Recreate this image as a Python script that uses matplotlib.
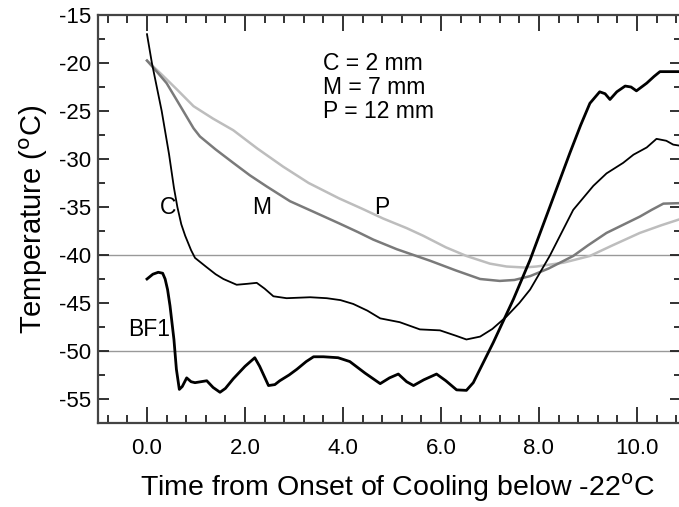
import matplotlib
matplotlib.use("Agg")
from matplotlib import pyplot as plt
from matplotlib.ticker import MultipleLocator, FormatStrFormatter

plt.rcParams['font.family'] = ['Liberation Sans', 'DejaVu Sans']
plt.rcParams['axes.unicode_minus'] = False

# Curve C (2 mm)
c_x = [0.0, 0.1, 0.3, 0.45, 0.55, 0.62, 0.7, 0.78, 0.9, 0.98, 1.2, 1.4, 1.56, 1.83, 2.05, 2.24,
       2.4, 2.58, 2.85, 3.33, 3.67, 3.95, 4.21, 4.5, 4.76, 5.16, 5.57, 5.98, 6.3, 6.52, 6.8,
       7.05, 7.34, 7.6, 7.82, 8.22, 8.7, 9.11, 9.38, 9.72, 9.93, 10.2, 10.4, 10.6, 10.74, 10.86]
c_y = [-17.0, -20.0, -25.0, -29.5, -33.0, -35.0, -36.8, -38.0, -39.5, -40.3, -41.2, -42.0,
       -42.5, -43.1, -43.0, -42.9, -43.5, -44.3, -44.5, -44.4, -44.5, -44.7, -45.1, -45.8,
       -46.6, -47.0, -47.75, -47.85, -48.4, -48.8, -48.5, -47.7, -46.4, -45.0, -43.6, -40.1,
       -35.3, -32.8, -31.5, -30.4, -29.55, -28.8, -27.9, -28.1, -28.5, -28.6]

# Curve M (7 mm)
m_x = [0.0, 0.2, 0.4, 0.6, 0.81, 0.95, 1.08, 1.4, 1.76, 2.1, 2.44, 2.92, 3.4, 3.92, 4.3, 4.62,
       5.1, 5.78, 6.3, 6.8, 7.2, 7.5, 7.82, 8.2, 8.7, 9.0, 9.38, 9.7, 10.06, 10.3, 10.54, 10.86]
m_y = [-19.75, -20.9, -22.1, -23.8, -25.6, -26.8, -27.65, -29.0, -30.4, -31.7, -32.85, -34.4,
       -35.5, -36.7, -37.6, -38.4, -39.4, -40.6, -41.6, -42.5, -42.7, -42.6, -42.2, -41.4,
       -40.1, -39.0, -37.7, -36.9, -36.0, -35.3, -34.65, -34.6]

# Curve P (12 mm)
p_x = [0.0, 0.3, 0.6, 0.95, 1.35, 1.76, 2.25, 2.78, 3.3, 3.92, 4.4, 4.82, 5.3, 5.64, 6.1,
       6.52, 7.0, 7.34, 7.7, 7.95, 8.5, 9.04, 9.5, 10.06, 10.5, 10.86]
p_y = [-19.75, -21.2, -22.7, -24.5, -25.8, -27.0, -28.9, -30.8, -32.5, -34.1, -35.2, -36.2,
       -37.2, -38.0, -39.2, -40.1, -40.9, -41.2, -41.3, -41.2, -40.8, -40.1, -39.0, -37.7,
       -36.9, -36.3]

# Curve BF1
bf_x = [0.0, 0.12, 0.23, 0.32, 0.37, 0.42, 0.47, 0.55, 0.6, 0.66, 0.72, 0.81, 0.9, 0.98, 1.1,
        1.22, 1.35, 1.49, 1.6, 1.76, 2.0, 2.2, 2.3, 2.48, 2.61, 2.71, 2.9, 3.06, 3.25, 3.4, 3.6,
        3.9, 4.14, 4.45, 4.76, 4.95, 5.13, 5.3, 5.44, 5.65, 5.91, 6.1, 6.32, 6.52, 6.66, 7.07,
        7.48, 7.82, 8.2, 8.63, 8.85, 9.04, 9.24, 9.35, 9.45, 9.59, 9.76, 9.88, 9.99, 10.2,
        10.35, 10.47, 10.86]
bf_y = [-42.5, -42.0, -41.8, -41.9, -42.5, -43.6, -45.3, -48.8, -51.9, -54.0, -53.7, -52.8,
        -53.2, -53.3, -53.2, -53.1, -53.8, -54.3, -53.9, -52.9, -51.6, -50.7, -51.6, -53.6,
        -53.5, -53.1, -52.5, -51.9, -51.1, -50.6, -50.6, -50.7, -51.1, -52.3, -53.4, -52.8,
        -52.4, -53.2, -53.6, -53.0, -52.4, -53.1, -54.05, -54.1, -53.3, -49.1, -44.6, -40.5,
        -35.3, -29.4, -26.5, -24.2, -23.0, -23.2, -23.8, -23.0, -22.4, -22.5, -22.9, -22.1,
        -21.4, -20.9, -20.9]

ref_lines = [-40, -50]
legend_lines = ["C = 2 mm", "M = 7 mm", "P = 12 mm"]

fig = plt.figure(figsize=(6.79, 5.07), dpi=100)
ax = fig.add_axes([98 / 679, 1 - 423 / 507, 583 / 679, 408 / 507])

for ref in ref_lines:
    ax.axhline(ref, color='#999999', linewidth=1.0, zorder=1)

ax.plot(p_x, p_y, color='#bdbdbd', linewidth=1.8, zorder=2)
ax.plot(m_x, m_y, color='#7a7a7a', linewidth=1.8, zorder=3)
ax.plot(c_x, c_y, color='black', linewidth=1.3, zorder=4)
ax.plot(bf_x, bf_y, color='black', linewidth=2.0, zorder=5)

ax.set_xlim(-1.0, 10.9)
ax.set_ylim(-57.5, -15)

ax.xaxis.set_major_locator(MultipleLocator(2.0))
ax.xaxis.set_minor_locator(MultipleLocator(0.4))
ax.yaxis.set_major_locator(MultipleLocator(5))
ax.yaxis.set_minor_locator(MultipleLocator(2.5))
ax.xaxis.set_major_formatter(FormatStrFormatter('%.1f'))
ax.yaxis.set_major_formatter(FormatStrFormatter('%d'))

ax.tick_params(axis='x', which='major', direction='in', length=11.5, width=1.3,
               top=True, bottom=True, labelsize=16, pad=11, color='#222222')
ax.tick_params(axis='x', which='minor', direction='in', length=5.5, width=1.3,
               top=True, bottom=True, color='#222222')
ax.tick_params(axis='y', which='major', direction='in', length=8, width=1.3,
               left=True, right=True, labelsize=16, pad=5, color='#222222')
ax.tick_params(axis='y', which='minor', direction='in', length=5, width=1.3,
               left=True, right=True, color='#222222')

for side in ['left', 'bottom', 'top', 'right']:
    ax.spines[side].set_linewidth(1.6)
    ax.spines[side].set_color('#444444')

ax.set_xlabel('Time from Onset of Cooling below -22$^{\\rm o}$C', fontsize=20.5)
ax.xaxis.set_label_coords(0.514, -0.12)
ax.set_ylabel('Temperature ($^{\\rm o}$C)', fontsize=21, labelpad=6)

ax.text(0.43, -35, 'C', fontsize=16.5, ha='center', va='center')
ax.text(2.35, -35, 'M', fontsize=16.5, ha='center', va='center')
ax.text(4.8, -35, 'P', fontsize=16.5, ha='center', va='center')
ax.text(0.04, -47.8, 'BF1', fontsize=16.5, ha='center', va='center')

for i, line in enumerate(legend_lines):
    ax.text(3.59, -20.0 - 2.55 * i, line, fontsize=16.5, ha='left', va='center')

fig.savefig('out.png', dpi=100)
